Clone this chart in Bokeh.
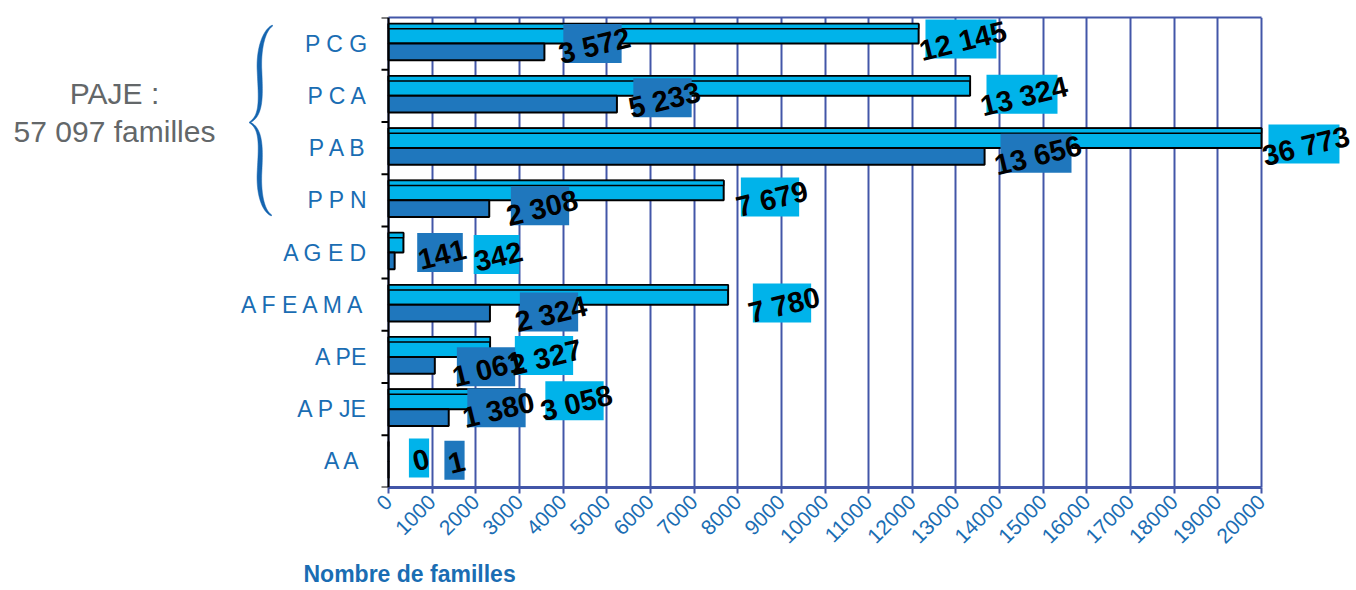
import numpy as np
from bokeh.plotting import figure
from bokeh.models import (ColumnDataSource, Range1d, FixedTicker, LinearAxis,
                          LabelSet, Grid, Span, Title)
from bokeh.embed import file_html
from bokeh.resources import INLINE
from bokeh.core.properties import value

# ---------------- data ----------------
categories = ["P C G", "P C A", "P A B", "P P N", "A G E D",
              "A F E A M A", "A PE", "A P JE", "A  A"]
series_light = [12145, 13324, 36773, 7679, 342, 7780, 2327, 3058, 0]
series_dark = [3572, 5233, 13656, 2308, 141, 2324, 1061, 1380, 1]
labels_light = ["12 145", "13 324", "36 773", "7 679", "342", "7 780", "2 327", "3 058", "0"]
labels_dark = ["3 572", "5 233", "13 656", "2 308", "141", "2 324", "1 061", "1 380", "1"]
x_ticks = [0, 1000, 2000, 3000, 4000, 5000, 6000, 7000, 8000, 9000, 10000,
           11000, 12000, 13000, 14000, 15000, 16000, 17000, 18000, 19000, 20000]
x_max = 20000
side_text = ["PAJE :", "57 097 familles"]
axis_title = "Nombre de familles"

# ---------------- label placement (layout, not data) ----------------
lab_x_light = [13115, 14513, 20973, 8740, 2474, 9015, 3562, 4261, 699]
lab_dy_light = [0.09, 0.03, 0.08, 0.065, -0.036, 0.034, 0.03, 0.16, 0.067]
lab_x_dark = [4673, 6277, 14834, 3471, 1180, 3677, 2234, 2474, 1512]
lab_dy_dark = [0.0, -0.038, -0.10, -0.107, 0.0, -0.138, -0.19, 0.025, 0.02]

# ---------------- styles ----------------
LIGHT = "#00B3EA"
DARK = "#1F77BD"
GRID = "#4256A8"
TICK = "#1A6DB3"
GREY = "#636769"
BRACE = "#1565B0"
FONT = "Liberation Sans"

W, H = 1356, 590
AXIS_X = 388                      # pixel column of the value 0
FRAME_T, FRAME_H = 17, 470
FRAME_B = FRAME_T + FRAME_H

n = len(categories)
y_pos = np.arange(n)[::-1] + 0.5
px_per_unit = 873.0 / x_max
px_per_cat = FRAME_H / n

LIGHT_OFF, LIGHT_H = 0.19, 0.38
DARK_OFF, DARK_H = -0.16, 0.32
STRIP_H = 5 / px_per_cat


def to_dx(px):
    return (np.asarray(px, dtype=float) - AXIS_X) / px_per_unit


def to_dy(py):
    return (FRAME_B - np.asarray(py, dtype=float)) / px_per_cat


def box_w(t):
    d = sum(ch.isdigit() for ch in t)
    return 7.5 + 12.7 * d


light_right = np.minimum(series_light, x_max)
src_light = ColumnDataSource(dict(y=y_pos + LIGHT_OFF, right=light_right))
src_strip = ColumnDataSource(dict(
    y=y_pos + LIGHT_OFF + LIGHT_H / 2 - STRIP_H / 2, right=light_right))
src_dark = ColumnDataSource(dict(y=y_pos + DARK_OFF, right=series_dark))

lab_src = ColumnDataSource(dict(
    x=list(lab_x_light) + list(lab_x_dark),
    y=list(y_pos + np.array(lab_dy_light)) + list(y_pos + np.array(lab_dy_dark)),
    w=[box_w(t) for t in labels_light] + [box_w(t) for t in labels_dark],
    c=[LIGHT] * n + [DARK] * n,
    t=labels_light + labels_dark,
))

# ---------------- figure ----------------
p = figure(frame_width=W, frame_height=FRAME_H,
           x_range=Range1d(float(to_dx(0)), float(to_dx(W))),
           y_range=Range1d(0, n),
           toolbar_location=None, output_backend="svg",
           x_axis_type=None, y_axis_type=None,
           min_border_left=0, min_border_right=0,
           min_border_top=FRAME_T, min_border_bottom=H - FRAME_B)
p.outline_line_color = None
p.background_fill_color = "white"
p.border_fill_color = "white"

# value axis (bottom)
xaxis = LinearAxis(ticker=FixedTicker(ticks=x_ticks), bounds=(0, x_max))
xaxis.axis_line_color = GRID
xaxis.axis_line_width = 3
xaxis.major_tick_line_color = GRID
xaxis.major_tick_line_width = 2
xaxis.major_tick_out = 6
xaxis.major_tick_in = 0
xaxis.minor_tick_line_color = None
xaxis.major_label_orientation = np.pi / 4
xaxis.major_label_text_color = TICK
xaxis.major_label_text_font = FONT
xaxis.major_label_text_font_size = "21px"
xaxis.major_label_standoff = 5
p.add_layout(xaxis, "below")

p.add_layout(Title(text=axis_title, align="left", offset=303, standoff=13,
                   text_font=FONT, text_font_style="bold",
                   text_font_size="23px", text_color=TICK), "below")

# top border of the plot area
top = LinearAxis(ticker=FixedTicker(ticks=[]), bounds=(0, x_max))
top.axis_line_color = GRID
top.axis_line_width = 2
top.major_tick_line_color = None
top.minor_tick_line_color = None
top.major_label_text_font_size = "0px"
p.add_layout(top, "above")

grid = Grid(dimension=0, ticker=FixedTicker(ticks=x_ticks), bounds=(0, x_max),
            grid_line_color=GRID, grid_line_width=2)
p.add_layout(grid)

# category axis: line at value 0, ticks at category boundaries, labels at centres
boundaries = np.arange(n + 1).astype(float)
p.segment(x0=float(to_dx(381)), x1=0, y0=boundaries, y1=boundaries,
          line_color="black", line_width=2)
p.add_layout(Span(location=0, dimension="height", line_color="black", line_width=2))
p.text(x=float(to_dx(367)), y=y_pos, text=categories, text_align="right",
       text_baseline="middle", text_font=value(FONT), text_font_size="23px",
       text_color=TICK)

# bars
p.hbar(y="y", left=0, right="right", height=LIGHT_H, source=src_light,
       fill_color=LIGHT, line_color="black", line_width=2)
p.hbar(y="y", left=0, right="right", height=STRIP_H, source=src_strip,
       fill_color=LIGHT, line_color="black", line_width=1.5)
p.hbar(y="y", left=0, right="right", height=DARK_H, source=src_dark,
       fill_color=DARK, line_color="black", line_width=2)

# value labels
p.rect(x="x", y="y", width="w", height=39, width_units="screen",
       height_units="screen", fill_color="c", line_color=None, source=lab_src)
p.add_layout(LabelSet(x="x", y="y", text="t", source=lab_src, angle=0.24,
                      text_align="center", text_baseline="middle",
                      x_offset=2, y_offset=-2,
                      text_font=value(FONT), text_font_style="bold",
                      text_font_size="29px", text_color="black"))

# PAJE group annotation
p.text(x=[float(to_dx(114))] * 2, y=list(to_dy([93, 131])), text=side_text,
       text_align="center", text_baseline="middle", text_font=value(FONT),
       text_font_size="30px", text_color=GREY)

# curly brace (decoration) as a tapered filled outline
segs = [((272, 25), (262, 31), (258, 52), (259, 70)),
        ((259, 70), (260, 95), (262, 115), (249, 122)),
        ((249, 122), (262, 128), (260, 150), (259, 172)),
        ((259, 172), (258, 192), (262, 210), (271, 215))]
pts = []
for k, (a, b, c, d) in enumerate(segs):
    t = np.linspace(0, 1, 40)[:, None]
    a, b, c, d = map(np.array, (a, b, c, d))
    seg = ((1 - t) ** 3) * a + 3 * ((1 - t) ** 2) * t * b + 3 * (1 - t) * t ** 2 * c + t ** 3 * d
    pts.append(seg if k == 0 else seg[1:])
pts = np.vstack(pts)
tang = np.gradient(pts, axis=0)
tang /= np.linalg.norm(tang, axis=1)[:, None]
norm = np.stack([-tang[:, 1], tang[:, 0]], axis=1)
s = np.linspace(0, 1, len(pts))
half = 0.5 + 1.8 * np.sin(np.pi * ((2 * s) % 1.0000001))
outer = pts + norm * half[:, None]
inner = pts - norm * half[:, None]
poly = np.vstack([outer, inner[::-1]])
p.patch(x=list(to_dx(poly[:, 0])), y=list(to_dy(poly[:, 1])),
        fill_color=BRACE, line_color=BRACE, line_width=0.5)

open("out.html", "w").write(file_html(p, INLINE))
